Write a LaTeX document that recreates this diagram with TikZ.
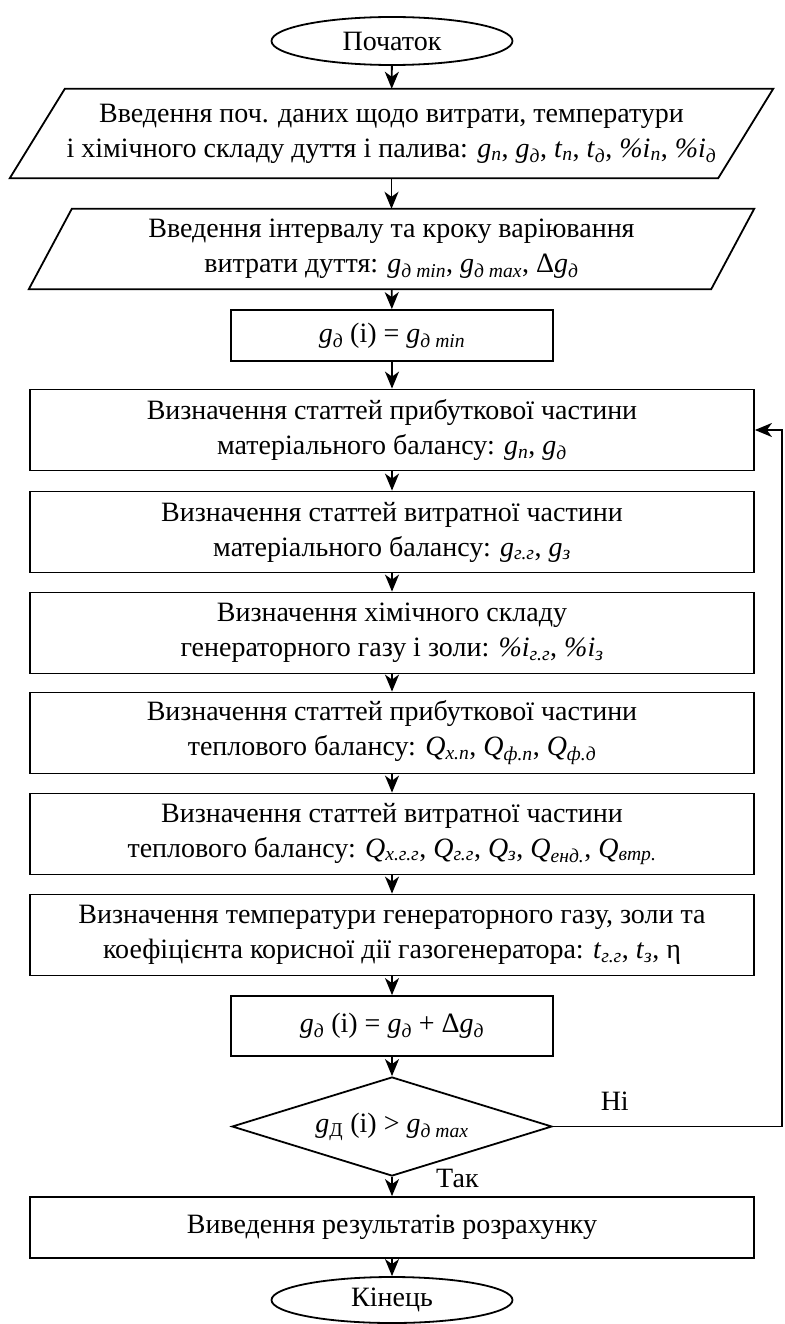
\documentclass[tikz,border=0pt]{standalone}
\usepackage{fontspec}
\setmainfont{Liberation Serif}
\usetikzlibrary{positioning, shapes.geometric, arrows.meta}

\newcommand{\vsub}[2]{\textit{#1}\textsubscript{\textit{#2}}}
% slanted outline round a named node: #1 node, #2 half of the slant
\newcommand{\slantbox}[2]{\draw[line width=1.8pt] ([xshift=-#2]#1.south west) -- ([xshift=-#2]#1.south east) -- ([xshift=#2]#1.north east) -- ([xshift=#2]#1.north west) -- cycle;}

\begin{document}
\begin{tikzpicture}[x=1pt, y=-1pt, font=\fontsize{28}{35}\selectfont]
    \useasboundingbox (0,0) rectangle (784,1324);

    % Define flowchart styles
    \tikzset{
        block/.style={draw, line width=1.8pt, rectangle, minimum width=724pt, minimum height=81pt, inner sep=0pt, align=center},
        smallblock/.style={draw, line width=1.8pt, rectangle, minimum width=322pt, minimum height=51pt, inner sep=0pt, align=center},
        io/.style={rectangle, inner sep=0pt, align=center},
        terminal/.style={draw, line width=1.8pt, ellipse, minimum width=241pt, minimum height=48pt, inner sep=0pt},
        decision/.style={draw, line width=1.8pt, diamond, aspect=3.2, minimum width=320pt, minimum height=99pt, inner sep=0pt},
        flow/.style={line width=1.8pt, -{Stealth[length=17pt, width=14pt, inset=5pt]}}
    }

    % Define nodes
	\node[terminal] (Start) at (392, 41) {Початок};
	\node[io, minimum width=708pt, minimum height=89pt] (InputData) at (391.5, 133.5) {Введення поч. даних щодо витрати, температури\\і хімічного складу дуття і палива: \vsub{g}{п}, \vsub{g}{д}, \vsub{t}{п}, \vsub{t}{д}, \vsub{\%i}{п}, \vsub{\%i}{д}};
	\node[io, minimum width=682pt, minimum height=80pt] (InputRange) at (391.5, 249) {Введення інтервалу та кроку варіювання\\витрати дуття: \vsub{g}{д min}, \vsub{g}{д max}, Δ\vsub{g}{д}};
	\node[smallblock] (InitStep) at (392, 335.5) {\vsub{g}{д} (i) = \vsub{g}{д min}};
	\node[block] (MatIncome) at (392, 430) {Визначення статтей прибуткової частини\\матеріального балансу: \vsub{g}{п}, \vsub{g}{д}};
	\node[block] (MatOutgo) at (392, 532) {Визначення статтей витратної частини\\матеріального балансу: \vsub{g}{г.г}, \vsub{g}{з}};
	\node[block] (GasComp) at (392, 633) {Визначення хімічного складу\\генераторного газу і золи: \vsub{\%i}{г.г}, \vsub{\%i}{з}};
	\node[block] (HeatIncome) at (392, 733) {Визначення статтей прибуткової частини\\теплового балансу: \vsub{Q}{х.п}, \vsub{Q}{ф.п}, \vsub{Q}{ф.д}};
	\node[block] (HeatOutgo) at (392, 834) {Визначення статтей витратної частини\\теплового балансу: \vsub{Q}{х.г.г}, \vsub{Q}{г.г}, \vsub{Q}{з}, \vsub{Q}{енд.}, \vsub{Q}{втр.}};
	\node[block] (TempEff) at (392, 935) {Визначення температури генераторного газу, золи та\\коефіцієнта корисної дії газогенератора: \vsub{t}{г.г}, \vsub{t}{з}, η};
	\node[smallblock, minimum height=60pt] (NextStep) at (392, 1026) {\vsub{g}{д} (i) = \vsub{g}{д} + Δ\vsub{g}{д}};
	\node[decision] (Check) at (392, 1126.5) {\textit{g}\textsubscript{Д} (i) > \vsub{g}{д max}};
	\node[block, minimum height=61pt] (Output) at (392, 1227.5) {Виведення результатів розрахунку};
	\node[terminal, minimum height=46pt] (End) at (392, 1300) {Кінець};
	\coordinate (LoopTurn) at (782, 1126.5);

    % Outline the input nodes
	\slantbox{InputData}{27.5pt}
	\slantbox{InputRange}{21.5pt}

    % Draw connectors
	\draw[flow] (Start) -- (InputData);
	\draw[flow] (InputData) -- (InputRange);
	\draw[flow] (InputRange) -- (InitStep);
	\draw[flow] (InitStep) -- (MatIncome);
	\draw[flow] (MatIncome) -- (MatOutgo);
	\draw[flow] (MatOutgo) -- (GasComp);
	\draw[flow] (GasComp) -- (HeatIncome);
	\draw[flow] (HeatIncome) -- (HeatOutgo);
	\draw[flow] (HeatOutgo) -- (TempEff);
	\draw[flow] (TempEff) -- (NextStep);
	\draw[flow] (NextStep) -- (Check);
	\draw[flow] (Check) -- node[right=40pt, pos=0.1] {Так} (Output);
	\draw[flow] (Output) -- (End);
	\draw[flow] (Check.east) -- node[above=12pt, pos=0.27] {Ні} (LoopTurn) |- (MatIncome.east);
\end{tikzpicture}
\end{document}
